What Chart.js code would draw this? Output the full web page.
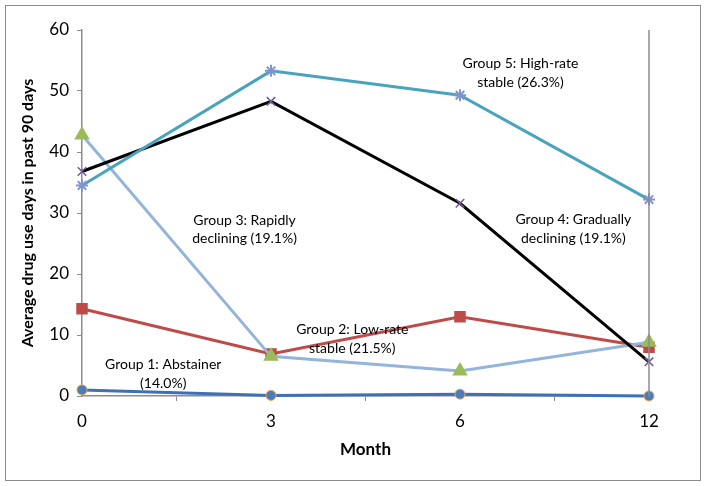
<!DOCTYPE html>
<html>
<head>
<meta charset="utf-8">
<script src="https://cdn.jsdelivr.net/npm/chart.js@4"></script>
<style>
  body { margin: 0; background: #fff; }
  #frame { position: absolute; left: 5px; top: 5px; width: 694px; height: 474px; border: 1px solid #8c8c8c; }
  #wrap { position: absolute; left: 0; top: 0; width: 708px; height: 486px; }
</style>
</head>
<body>
<div id="frame"></div>
<div id="wrap"><canvas id="myChart"></canvas></div>
<script>
// Months (category axis)
var months = ["0", "3", "6", "12"];

// Average drug use days per group
var group1 = [1.0, 0.1, 0.3, 0.0];
var group2 = [14.3, 6.9, 13.0, 8.0];
var group3 = [42.8, 6.5, 4.1, 8.8];
var group4 = [36.8, 48.3, 31.6, 5.6];
var group5 = [34.5, 53.3, 49.3, 32.2];

var yTicks = [0, 10, 20, 30, 40, 50, 60];

// Text labels placed next to the lines (category index, y value)
var notes = [
    { x: 2.32, y: 54.5, lines: ["Group 5: High-rate", "stable (26.3%)"] },
    { x: 2.6, y: 28.9, lines: ["Group 4: Gradually", "declining (19.1%)"] },
    { x: 0.86, y: 28.8, lines: ["Group 3: Rapidly", "declining (19.1%)"] },
    { x: 1.43, y: 10.9, lines: ["Group 2: Low-rate", "stable (21.5%)"] },
    { x: 0.43, y: 5.1, lines: ["Group 1: Abstainer", "(14.0%)"] }
];

var FONT = 'Lato, "Liberation Sans", sans-serif';

var data = {
    labels: months,
    datasets: [{
        label: "Group 5",
        data: group5,
        borderColor: '#4aa3bd',
        backgroundColor: '#7f95cc',
        pointStyle: 'star',
        pointRadius: 6,
        pointBorderColor: '#7f95cc',
        pointBorderWidth: 2,
        borderWidth: 3
    },
    {
        label: "Group 4",
        data: group4,
        borderColor: '#000000',
        pointStyle: 'crossRot',
        pointRadius: 6,
        pointBorderColor: '#6f5a96',
        pointBorderWidth: 1.5,
        borderWidth: 3
    },
    {
        label: "Group 3",
        data: group3,
        borderColor: '#94b4dc',
        backgroundColor: '#9bbb59',
        pointStyle: 'triangle',
        pointRadius: 6,
        pointBorderColor: '#9bbb59',
        borderWidth: 3
    },
    {
        label: "Group 2",
        data: group2,
        borderColor: '#be4b48',
        backgroundColor: '#be4b48',
        pointStyle: 'rect',
        pointRadius: 6,
        pointBorderColor: '#be4b48',
        borderWidth: 3
    },
    {
        label: "Group 1",
        data: group1,
        borderColor: '#3f70b5',
        backgroundColor: '#4a7ebb',
        pointStyle: 'circle',
        pointRadius: 5,
        pointBorderColor: '#f0a050',
        pointBorderWidth: 1,
        borderWidth: 3
    }]
};

// Draws the right border of the plot and the group notes
var extras = {
    id: 'extras',
    afterDatasetsDraw: function(chart) {
        var ctx = chart.ctx;
        var area = chart.chartArea;
        var xs = chart.scales.x;
        var ys = chart.scales.y;
        ctx.save();
        ctx.strokeStyle = '#8c8c8c';
        ctx.lineWidth = 1.5;
        ctx.beginPath();
        ctx.moveTo(area.right, area.top);
        ctx.lineTo(area.right, area.bottom);
        ctx.stroke();

        ctx.fillStyle = '#000';
        ctx.font = '14px ' + FONT;
        ctx.textAlign = 'center';
        ctx.textBaseline = 'middle';
        notes.forEach(function(n) {
            var px = xs.getPixelForValue(n.x);
            var py = ys.getPixelForValue(n.y);
            n.lines.forEach(function(t, i) {
                ctx.fillText(t, px, py + i * 18.5);
            });
        });
        ctx.restore();
    }
};

var options = {
    responsive: true,
    maintainAspectRatio: false,
    animation: false,
    layout: { padding: { left: 14, right: 59, top: 30, bottom: 22 } },
    plugins: { legend: { display: false }, tooltip: { enabled: false } },
    elements: { line: { tension: 0 } },
    datasets: { line: { clip: false } },
    scales: {
        x: {
            type: 'category',
            offset: false,
            border: { color: '#8c8c8c', width: 1.5 },
            grid: { drawOnChartArea: false, offset: true, tickLength: 5, color: '#8c8c8c' },
            ticks: { color: '#000', font: { family: FONT, size: 17 }, padding: 10 },
            title: { display: true, text: 'Month', color: '#000', font: { family: FONT, size: 17, weight: 'bold' }, padding: { top: 5 } },
            afterFit: function(scale) { scale.height = 68; }
        },
        y: {
            min: 0,
            max: 60,
            border: { color: '#8c8c8c', width: 1.5 },
            grid: { drawOnChartArea: false, tickLength: 5, color: '#8c8c8c' },
            afterBuildTicks: function(scale) {
                scale.ticks = yTicks.map(function(v) { return { value: v }; });
            },
            ticks: { color: '#000', font: { family: FONT, size: 17 }, padding: 8 },
            title: { display: true, text: 'Average drug use days in past 90 days', color: '#000', font: { family: FONT, size: 16, weight: 'bold' }, padding: { bottom: 4 } },
            afterFit: function(scale) { scale.width = 68; }
        }
    }
};

var ctx = document.getElementById('myChart').getContext('2d');
var myChart = new Chart(ctx, {
    type: 'line',
    data: data,
    options: options,
    plugins: [extras]
});
</script>
</body>
</html>
